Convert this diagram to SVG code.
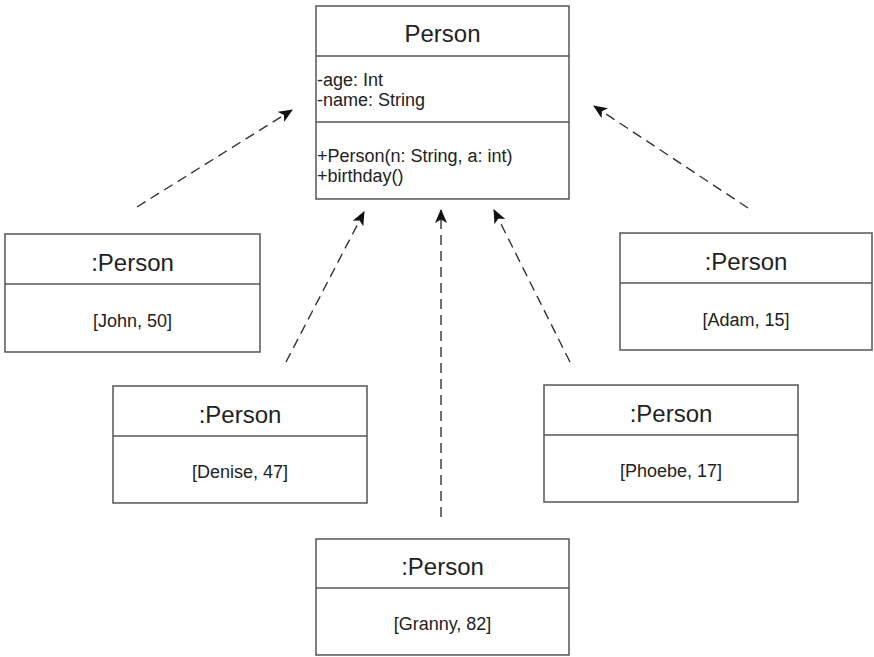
<svg xmlns="http://www.w3.org/2000/svg" width="874" height="657" viewBox="0 0 874 657">
<style>
.box{fill:#fff;stroke:#555;stroke-width:1.5}
.div{stroke:#555;stroke-width:1.5}
.t{font-family:"Liberation Sans",Arial,sans-serif;fill:#222}
.title{font-size:24px;text-anchor:middle}
.val{font-size:18px;text-anchor:middle}
.mem{font-size:18px}
.conn{fill:none;stroke:#333;stroke-width:1.4;stroke-dasharray:10 6}
</style>
<defs>
<marker id="arr" viewBox="0 0 14 12" refX="13" refY="6" markerWidth="14" markerHeight="12" markerUnits="userSpaceOnUse" orient="auto">
<path d="M0,0 L14,6 L0,12 L3.5,6 Z" fill="#111"/>
</marker>
</defs>
<g id="connectors">
<line class="conn" x1="137" y1="207" x2="292" y2="110" marker-end="url(#arr)"/>
<line class="conn" x1="286" y1="362" x2="364" y2="212" marker-end="url(#arr)"/>
<line class="conn" x1="441" y1="517" x2="441" y2="210" marker-end="url(#arr)"/>
<line class="conn" x1="570" y1="362" x2="494" y2="210" marker-end="url(#arr)"/>
<line class="conn" x1="748" y1="208" x2="594" y2="106" marker-end="url(#arr)"/>
</g>
<g id="person-class">
<rect class="box" x="316" y="6" width="253" height="193"/>
<line class="div" x1="316" y1="56" x2="569" y2="56"/>
<line class="div" x1="316" y1="122" x2="569" y2="122"/>
<text class="t title" x="442.5" y="42">Person</text>
<text class="t mem" x="317" y="86">-age: Int</text>
<text class="t mem" x="317" y="106">-name: String</text>
<text class="t mem" x="317" y="162">+Person(n: String, a: int)</text>
<text class="t mem" x="317" y="182">+birthday()</text>
</g>
<g id="john">
<rect class="box" x="5" y="234" width="255" height="118"/>
<line class="div" x1="5" y1="284" x2="260" y2="284"/>
<text class="t title" x="132.5" y="271">:Person</text>
<text class="t val" x="132.5" y="327">[John, 50]</text>
</g>
<g id="adam">
<rect class="box" x="620" y="233" width="252" height="117"/>
<line class="div" x1="620" y1="283" x2="872" y2="283"/>
<text class="t title" x="746" y="270">:Person</text>
<text class="t val" x="746" y="326">[Adam, 15]</text>
</g>
<g id="denise">
<rect class="box" x="113" y="386" width="254" height="117"/>
<line class="div" x1="113" y1="436" x2="367" y2="436"/>
<text class="t title" x="240" y="423">:Person</text>
<text class="t val" x="240" y="478">[Denise, 47]</text>
</g>
<g id="phoebe">
<rect class="box" x="544" y="385" width="254" height="117"/>
<line class="div" x1="544" y1="435" x2="798" y2="435"/>
<text class="t title" x="671" y="422">:Person</text>
<text class="t val" x="671" y="477">[Phoebe, 17]</text>
</g>
<g id="granny">
<rect class="box" x="316" y="539" width="253" height="116"/>
<line class="div" x1="316" y1="588" x2="569" y2="588"/>
<text class="t title" x="442.5" y="575">:Person</text>
<text class="t val" x="442.5" y="630">[Granny, 82]</text>
</g>
</svg>
